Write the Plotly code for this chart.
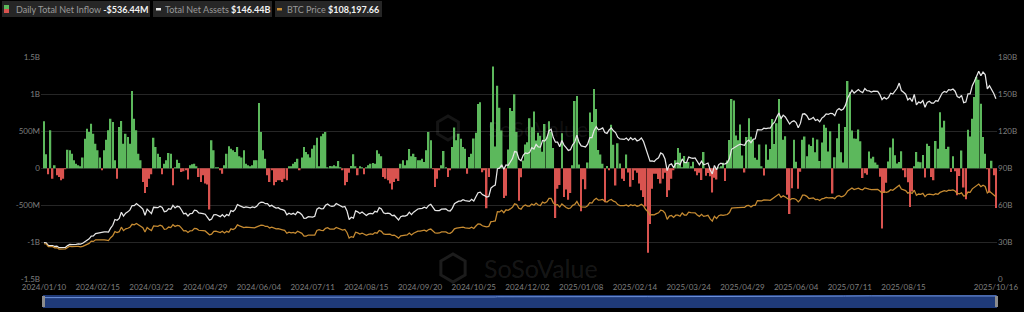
import pandas as pd
import plotly.graph_objects as go

# ---------------- data ----------------
HOLIDAYS = ["2024-01-15", "2024-02-19", "2024-03-29", "2024-05-27", "2024-06-19", "2024-07-04",
            "2024-09-02", "2024-11-28", "2024-12-25", "2025-01-01", "2025-01-09", "2025-01-20",
            "2025-02-17", "2025-04-18", "2025-05-26", "2025-06-19", "2025-07-04", "2025-09-01"]
trade_days = pd.bdate_range("2024-01-10", "2025-10-16", freq="C", holidays=HOLIDAYS)
dates = [d.strftime("%Y/%m/%d") for d in trade_days]

x_tick_labels = ["2024/01/10", "2024/02/15", "2024/03/22", "2024/04/29", "2024/06/04", "2024/07/11",
                 "2024/08/15", "2024/09/20", "2024/10/25", "2024/12/02", "2025/01/08", "2025/02/14",
                 "2025/03/24", "2025/04/29", "2025/06/04", "2025/07/11", "2025/08/15", "2025/10/16"]

# Daily total net inflow, US$ millions
flows_m = [
    635, 190, -80, 513, -140, 40, -95, -117, -162, -140, -10, 250, 243, 198, 108, 63, 40, 18, 145, 400, 535, 490, 603, 468, 333,
    243, 145, -18, 243, 387, 513, 670, 625, 108, -140, 558, 640, 333, 468, 423, 333, 1045, 670, 513, 198, 108, -185, -333, -252, -140,
    -81, 414, 288, 198, 153, -81, 63, 108, 207, 198, -230, 10, 117, 72, -50, -40, -27, -153, 40, 54, 63, 18, -117, -185, -95,
    -207, -220, -558, 378, 243, 5, 9, -18, -72, 40, 198, 297, 265, 243, 220, 288, 162, 145, 243, 63, 40, 18, 40, 108, 108,
    882, 490, 243, 130, -95, -185, -27, -230, -185, -162, -162, -185, -140, -162, 18, 27, 63, 85, 130, -18, 145, 288, 220, 190, 145,
    265, 310, 414, 18, 432, 468, 490, 5, 30, 20, 40, 15, 100, 10, -20, -230, -185, -60, 30, 190, 20, -95, 18, 10, -81,
    5, 40, 63, 72, 63, 243, 198, 162, -117, -140, -162, -207, -288, -185, -140, -171, 63, 108, 40, 108, 261, 162, 198, 153, 108,
    108, 130, 85, 243, 490, 378, -5, -252, -140, -20, 40, 234, 10, -117, -20, 288, 550, 378, 468, 400, 288, 265, -72, 153, 198,
    402, 479, 870, 893, -55, -20, -541, -116, 621, 1376, 294, 1114, 817, 510, -400, -370, 255, 816, 773, 1000, 490, -438, -122, 105, 320,
    353, 676, 556, 766, 376, 479, 439, 223, 597, 428, 637, 493, 275, -672, -277, -226, 475, -388, -288, -426, -333, 40, 908, 978, 52,
    -582, -149, -284, 80, 755, 626, 1072, 802, 248, 188, 60, -458, 30, -20, 588, 318, -234, 340, 66, -140, -171, 186, -56, -251, -157,
    -30, -60, -207, -297, -387, -516, -1140, -754, -276, -72, -74, -143, -207, -140, -60, -387, -297, -140, -20, 108, 274, 209, 11, 165, 83,
    84, 27, 89, -40, -95, -60, -157, 220, -99, -64, -109, -326, -127, -150, 1, 15, 76, -170, 107, 381, 936, 917, 442, 380, 591,
    173, -56, 422, 675, 425, 380, 142, 117, 321, 20, -96, 320, 115, 260, 667, 329, 608, 935, 700, 386, 432, -358, -616, -268, 387,
    87, -278, -48, 386, 431, 164, 322, 301, 412, 216, 389, 100, 350, 588, 548, 226, 501, -342, 150, 407, 601, 217, 80, 558, 1180,
    1030, 510, 403, 400, 523, 364, -131, -68, -86, 227, 131, 157, 80, 47, -114, -812, -333, -196, 91, 281, 404, 178, 66, 86, 231,
    -14, -122, -190, -523, -312, 23, 219, 88, 81, 179, -126, 333, 301, -117, -160, 368, 265, 757, 553, 642, 260, 292, -51, 163, -40,
    -363, -104, 241, -258, -419, 522, 430, 670, 963, 1233, 1197, 873, 423, 198, -5, -326, 102, -94, -536.44,
]

# Total net assets, US$ billions
total_assets_b = [
    29.7, 29.6, 27.4, 27.6, 27.4, 26.6, 26.9, 25.6, 25.8, 26.0, 25.9, 27.3, 28.3, 28.1, 28.0, 28.4, 28.8, 28.6, 29.2, 30.3, 31.3, 32.8, 35.1, 35.2, 37.0,
    37.5, 37.8, 38.5, 38.4, 38.4, 38.3, 41.5, 43.8, 48.5, 47.9, 49.3, 54.4, 51.3, 53.6, 54.7, 56.3, 59.8, 59.7, 61.4, 60.2, 58.6, 57.0, 52.0, 56.9, 54.8,
    53.3, 58.4, 58.4, 58.1, 59.3, 58.2, 54.8, 55.2, 57.3, 56.8, 59.9, 57.9, 59.2, 58.7, 56.2, 53.1, 53.5, 51.3, 53.2, 53.5, 56.0, 55.7, 53.9, 53.9, 53.3,
    52.8, 50.3, 48.0, 48.9, 52.3, 52.5, 51.8, 50.8, 52.4, 50.6, 52.5, 51.6, 55.7, 55.0, 56.7, 60.6, 59.7, 58.9, 58.1, 58.7, 58.6, 58.0, 58.7, 58.1, 59.2,
    61.5, 62.5, 62.4, 61.3, 61.4, 59.3, 60.0, 58.7, 57.8, 58.1, 56.9, 56.5, 55.7, 52.3, 53.6, 52.7, 53.5, 52.4, 54.7, 53.9, 52.4, 49.5, 49.6, 50.8, 50.7,
    50.4, 51.1, 56.9, 58.1, 57.2, 57.3, 60.0, 61.0, 59.6, 59.1, 59.5, 61.4, 60.5, 60.0, 58.5, 59.1, 55.4, 48.5, 50.3, 49.6, 55.5, 54.7, 53.4, 54.5, 52.7,
    51.7, 53.0, 53.5, 53.1, 55.1, 54.5, 58.1, 57.1, 53.9, 53.3, 53.6, 53.2, 51.6, 51.9, 50.2, 48.1, 50.8, 51.4, 51.2, 52.0, 54.4, 52.4, 54.4, 55.9, 57.0,
    57.3, 57.5, 58.5, 57.6, 59.9, 60.8, 58.4, 55.9, 55.6, 55.7, 56.9, 57.2, 57.1, 55.6, 55.4, 57.5, 61.3, 62.4, 63.3, 63.4, 64.5, 63.8, 63.7, 63.2, 64.8,
    63.4, 66.9, 70.2, 70.7, 68.7, 67.9, 66.7, 67.2, 73.9, 75.5, 76.4, 89.7, 90.1, 92.9, 89.2, 92.7, 92.4, 95.1, 97.9, 103.6, 103.2, 97.5, 96.2, 100.5, 102.5,
    102.0, 102.9, 106.7, 105.6, 109.4, 107.3, 107.2, 112.6, 112.1, 114.4, 120.5, 121.6, 114.9, 111.2, 111.2, 107.5, 112.5, 108.8, 106.7, 104.5, 105.1, 109.1, 111.3, 116.9, 111.0,
    108.2, 107.7, 107.3, 109.6, 114.9, 114.8, 120.7, 123.8, 121.2, 121.8, 122.7, 119.0, 118.3, 121.1, 122.8, 120.4, 119.0, 115.2, 113.8, 113.6, 113.4, 114.6, 112.7, 114.8, 113.2,
    114.3, 112.2, 112.9, 114.6, 111.7, 105.7, 101.6, 95.8, 96.0, 95.5, 97.4, 98.5, 102.4, 101.4, 97.5, 88.1, 92.7, 93.6, 90.5, 93.8, 94.2, 92.9, 97.6, 94.7, 94.6,
    99.2, 98.5, 98.0, 98.4, 95.1, 92.8, 95.8, 92.9, 93.5, 94.3, 88.9, 85.4, 92.3, 88.8, 93.0, 94.2, 93.4, 93.6, 94.7, 97.9, 105.4, 106.7, 107.4, 108.7, 109.6,
    108.9, 108.7, 111.7, 112.9, 110.7, 113.5, 113.9, 121.3, 121.2, 121.1, 122.5, 122.1, 122.5, 122.5, 125.7, 127.4, 131.5, 134.8, 130.2, 133.1, 131.6, 128.6, 125.9, 127.8, 128.5,
    127.1, 122.9, 126.4, 133.9, 134.2, 132.6, 129.5, 130.0, 131.3, 128.8, 129.6, 127.7, 130.7, 132.0, 134.1, 133.8, 134.6, 134.3, 132.7, 137.0, 138.5, 137.0, 138.0, 141.2, 147.0,
    149.8, 153.3, 151.0, 152.6, 153.9, 152.2, 151.4, 154.7, 152.9, 152.7, 151.9, 152.6, 152.4, 152.4, 149.7, 145.7, 147.5, 146.2, 147.4, 150.9, 150.2, 153.0, 154.9, 159.1, 153.0,
    151.7, 150.1, 145.5, 146.9, 144.2, 149.9, 141.4, 143.7, 143.0, 144.9, 139.4, 143.3, 144.3, 142.9, 142.8, 144.9, 144.4, 148.3, 151.0, 152.3, 151.6, 153.8, 153.4, 154.3, 152.5,
    148.2, 147.2, 149.1, 143.2, 143.7, 150.4, 150.3, 157.0, 160.6, 164.1, 168.7, 165.0, 168.1, 166.0, 154.4, 156.9, 154.0, 150.7, 146.44,
]

# BTC price, US$ thousands
btc_price_k = [
    46.6, 46.3, 42.8, 43.1, 42.7, 41.3, 41.6, 39.5, 39.8, 40.1, 39.9, 41.8, 43.3, 42.9, 42.6, 43.1, 43.2, 42.6, 43.1, 44.3, 45.3, 47.1, 50.0, 49.7, 51.8,
    52.0, 51.9, 52.3, 51.8, 51.3, 50.7, 54.5, 57.0, 62.5, 61.2, 62.4, 68.3, 63.8, 66.1, 66.9, 68.3, 72.1, 71.5, 73.1, 71.4, 69.4, 67.6, 61.9, 67.9, 65.5,
    63.8, 69.9, 69.9, 69.5, 70.8, 69.7, 65.5, 65.9, 68.5, 67.8, 71.6, 69.1, 70.6, 70.0, 67.1, 63.4, 63.8, 61.3, 63.5, 63.8, 66.8, 66.4, 64.3, 64.5, 63.8,
    63.4, 60.6, 58.3, 59.1, 62.9, 63.2, 62.3, 61.2, 63.1, 60.8, 62.9, 61.6, 66.2, 65.2, 67.0, 71.4, 70.1, 69.1, 67.9, 68.5, 68.4, 67.6, 68.3, 67.5, 68.8,
    70.5, 71.1, 70.8, 69.3, 69.5, 67.3, 68.2, 66.8, 66.0, 66.5, 65.2, 64.9, 64.1, 60.3, 61.8, 60.8, 61.6, 60.3, 62.9, 62.0, 60.2, 56.7, 56.7, 58.0, 57.7,
    57.3, 57.9, 64.1, 65.1, 64.1, 63.9, 66.7, 67.6, 65.9, 65.4, 65.8, 67.9, 66.8, 66.2, 64.6, 65.4, 61.4, 54.0, 56.0, 55.1, 61.7, 60.9, 59.4, 60.6, 58.7,
    57.6, 58.9, 59.5, 59.0, 61.2, 60.4, 64.1, 62.9, 59.5, 59.0, 59.4, 59.1, 57.5, 58.0, 56.2, 54.0, 57.0, 57.6, 57.3, 58.1, 60.6, 58.2, 60.3, 61.8, 63.0,
    63.2, 63.3, 64.3, 63.1, 65.2, 65.9, 63.3, 60.8, 60.6, 60.7, 62.1, 62.2, 62.1, 60.6, 60.3, 62.4, 66.1, 67.0, 67.6, 67.4, 68.4, 67.4, 67.4, 66.7, 68.2,
    66.6, 69.9, 72.7, 72.3, 70.2, 69.5, 68.8, 69.4, 75.6, 75.9, 76.5, 88.7, 88.3, 90.5, 87.3, 91.1, 90.5, 92.3, 94.3, 98.9, 98.0, 93.0, 91.9, 95.9, 97.5,
    95.9, 96.0, 98.8, 97.0, 99.9, 97.4, 96.7, 101.2, 100.0, 101.5, 106.1, 106.2, 100.2, 97.5, 97.8, 94.7, 98.7, 95.8, 94.2, 92.6, 93.4, 96.9, 98.1, 102.1, 96.9,
    95.0, 94.6, 94.5, 96.5, 100.5, 99.9, 104.1, 106.1, 103.7, 104.0, 104.7, 102.0, 101.3, 103.7, 104.7, 102.4, 101.4, 97.9, 96.6, 96.6, 96.5, 97.4, 95.8, 97.8, 96.6,
    97.5, 95.8, 96.6, 98.3, 96.1, 91.4, 88.7, 84.3, 84.7, 84.4, 86.1, 87.2, 90.6, 89.9, 86.7, 78.5, 82.9, 83.7, 81.1, 84.0, 84.1, 82.7, 86.9, 84.2, 84.0,
    88.0, 87.4, 86.9, 87.2, 84.4, 82.5, 85.2, 82.5, 83.1, 83.9, 79.2, 76.3, 82.6, 79.6, 83.4, 84.5, 83.7, 84.0, 84.9, 87.5, 93.4, 93.7, 93.9, 94.7, 95.0,
    94.3, 94.2, 96.5, 96.9, 94.7, 96.8, 97.0, 103.2, 102.9, 102.8, 104.1, 103.5, 103.7, 103.5, 105.6, 106.8, 109.7, 111.7, 107.3, 109.4, 107.8, 105.6, 103.9, 105.7, 105.9,
    104.7, 101.5, 104.4, 110.3, 110.2, 108.7, 105.9, 106.0, 106.8, 104.6, 104.9, 103.3, 105.5, 106.0, 107.3, 106.9, 107.1, 107.1, 105.7, 108.8, 109.6, 108.2, 108.9, 111.3, 115.9,
    117.5, 119.8, 117.7, 118.7, 119.4, 117.9, 117.4, 119.9, 118.6, 118.3, 117.6, 118.0, 117.9, 117.8, 115.8, 113.3, 115.0, 114.1, 115.0, 117.5, 116.7, 118.7, 120.2, 123.3, 118.4,
    117.4, 116.3, 112.9, 114.3, 112.5, 116.9, 110.1, 111.8, 111.3, 112.6, 108.4, 111.2, 111.7, 110.7, 110.7, 112.1, 111.5, 113.9, 115.5, 116.1, 115.4, 116.8, 116.5, 117.1, 115.7,
    112.7, 112.0, 113.3, 109.0, 109.7, 114.4, 114.0, 118.6, 120.6, 122.3, 124.8, 121.4, 123.3, 121.7, 113.2, 115.3, 113.1, 110.8, 108.198,
]

left_tick_vals = [-1500, -1000, -500, 0, 500, 1000, 1500]
left_tick_text = ["-1.5B", "-1B", "-500M", "0", "500M", "1B", "1.5B"]
right_tick_vals = [0, 30, 60, 90, 120, 150, 180]
right_tick_text = ["0", "30B", "60B", "90B", "120B", "150B", "180B"]

legend_items = [
    ("Daily Total Net Inflow", "-$536.44M"),
    ("Total Net Assets", "$146.44B"),
    ("BTC Price", "$108,197.66"),
]

assert len(dates) == len(flows_m) == len(total_assets_b) == len(btc_price_k), (
    len(dates), len(flows_m), len(total_assets_b), len(btc_price_k))

# ---------------- style ----------------
W, H = 1024, 312
GREEN, RED = "#5cb85c", "#d9534f"
WHITE_LINE, ORANGE_LINE = "#e6e6e6", "#c68b32"
GRID = "#262626"
TICK = "#7f7f7f"
FONT = "Lato"


def px(x):
    return x / W


def py(y):
    return 1 - y / H


PLOT_L, PLOT_R = 41, 997
PLOT_T, PLOT_B = 57.3, 279.3
NAV_T, NAV_B = 295, 308

bar_colors = [GREEN if v >= 0 else RED for v in flows_m]

fig = go.Figure()
fig.add_trace(go.Bar(x=dates, y=flows_m, marker=dict(color=bar_colors, line=dict(width=0)),
                     xaxis="x", yaxis="y", hoverinfo="skip"))
fig.add_trace(go.Scatter(x=dates, y=total_assets_b, mode="lines", xaxis="x", yaxis="y2",
                         line=dict(color=WHITE_LINE, width=1.25), hoverinfo="skip"))
fig.add_trace(go.Scatter(x=dates, y=btc_price_k, mode="lines", xaxis="x", yaxis="y3",
                         line=dict(color=ORANGE_LINE, width=1.25), hoverinfo="skip"))
# navigator
fig.add_trace(go.Scatter(x=dates, y=total_assets_b, mode="lines", xaxis="x2", yaxis="y4",
                         line=dict(color="#6f93dc", width=1), hoverinfo="skip"))

x_range = [-1.4, len(dates) - 0.5]
xdom = [px(PLOT_L), px(PLOT_R)]

shapes = []
annotations = []

# navigator background & handles
shapes.append(dict(type="rect", xref="paper", yref="paper", x0=px(43), x1=px(997),
                   y0=py(NAV_B), y1=py(NAV_T), fillcolor="#1f3a78", line=dict(width=0), layer="below"))
for hx in (42, 995):
    shapes.append(dict(type="rect", xref="paper", yref="paper", x0=px(hx), x1=px(hx + 3),
                       y0=py(NAV_B - 1), y1=py(NAV_T + 1), fillcolor="#8c8c8c", line=dict(width=0)))

# legend boxes
boxes = [(2, 150), (153, 272), (275, 382)]
for (x0, x1) in boxes:
    shapes.append(dict(type="rect", xref="paper", yref="paper", x0=px(x0), x1=px(x1),
                       y0=py(17), y1=py(1), fillcolor="#262626", line=dict(width=0)))
# icons
shapes.append(dict(type="rect", xref="paper", yref="paper", x0=px(4), x1=px(9), y0=py(9), y1=py(5),
                   fillcolor=GREEN, line=dict(width=0)))
shapes.append(dict(type="rect", xref="paper", yref="paper", x0=px(4), x1=px(9), y0=py(13), y1=py(9),
                   fillcolor=RED, line=dict(width=0)))
shapes.append(dict(type="rect", xref="paper", yref="paper", x0=px(156), x1=px(161), y0=py(10.5), y1=py(8),
                   fillcolor="#e8e8e8", line=dict(width=0)))
shapes.append(dict(type="rect", xref="paper", yref="paper", x0=px(277), x1=px(282), y0=py(10.5), y1=py(8),
                   fillcolor=ORANGE_LINE, line=dict(width=0)))

text_x = [14, 163, 285]
for (label, value), tx in zip(legend_items, text_x):
    annotations.append(dict(
        xref="paper", yref="paper", x=px(tx), y=py(9.5), xanchor="left", yanchor="middle",
        showarrow=False,
        text=f"<span style='color:#9a9a9a'>{label}</span> <b>{value}</b>",
        font=dict(family=FONT, size=9, color="#f2f2f2")))


# watermarks
def hexagon(cx, cy, r):
    import math
    pts = []
    for k in range(6):
        a = math.radians(60 * k + 30)
        pts.append((cx + r * math.cos(a), cy + r * math.sin(a)))
    d = "M " + " L ".join(f"{px(x):.5f},{py(y):.5f}" for x, y in pts) + " Z"
    return d


for (cx, cy, r, fs, tx, alpha) in [(448, 128, 12, 22, 538, 0.10), (453, 268, 14, 25, 541, 0.15)]:
    shapes.append(dict(type="path", xref="paper", yref="paper", path=hexagon(cx, cy, r),
                       line=dict(color=f"rgba(150,150,150,{alpha + 0.04})", width=3)))
    annotations.append(dict(xref="paper", yref="paper", x=px(tx), y=py(cy), xanchor="center",
                            yanchor="middle", showarrow=False, text="SoSoValue",
                            font=dict(family=FONT, size=fs, color=f"rgba(160,160,160,{alpha})")))

fig.update_layout(
    width=W, height=H,
    margin=dict(l=0, r=0, t=0, b=0),
    paper_bgcolor="#000000", plot_bgcolor="#000000",
    template="none",
    showlegend=False,
    bargap=0.28,
    font=dict(family=FONT, color=TICK, size=8),
    xaxis=dict(domain=xdom, type="category", categoryorder="array", categoryarray=dates,
               range=x_range, tickmode="array", tickvals=x_tick_labels, ticktext=x_tick_labels,
               showgrid=False, zeroline=False, showline=False, ticks="", anchor="y",
               ticklabelstandoff=2,
               tickfont=dict(family=FONT, size=8, color=TICK), automargin=False, tickangle=0),
    yaxis=dict(domain=[py(PLOT_B), py(PLOT_T)], range=[-1500, 1500], tickmode="array",
               tickvals=left_tick_vals, ticktext=left_tick_text, showgrid=True, gridcolor=GRID,
               gridwidth=1, zeroline=False, showline=False, ticks="", automargin=False,
               tickfont=dict(family=FONT, size=8, color=TICK), anchor="x"),
    yaxis2=dict(overlaying="y", side="right", range=[0, 180], tickmode="array",
                tickvals=right_tick_vals, ticktext=right_tick_text, showgrid=False,
                zeroline=False, showline=False, ticks="", automargin=False, anchor="x",
                tickfont=dict(family=FONT, size=8, color=TICK)),
    yaxis3=dict(overlaying="y", range=[0, 291], visible=False, anchor="x"),
    xaxis2=dict(domain=xdom, type="category", categoryorder="array", categoryarray=dates,
                range=x_range, visible=False, anchor="y4"),
    yaxis4=dict(domain=[py(NAV_B), py(NAV_T)], range=[-700, 215], visible=False, anchor="x2"),
    shapes=shapes,
    annotations=annotations,
)

fig.write_html("out.html", config={"displayModeBar": False})
